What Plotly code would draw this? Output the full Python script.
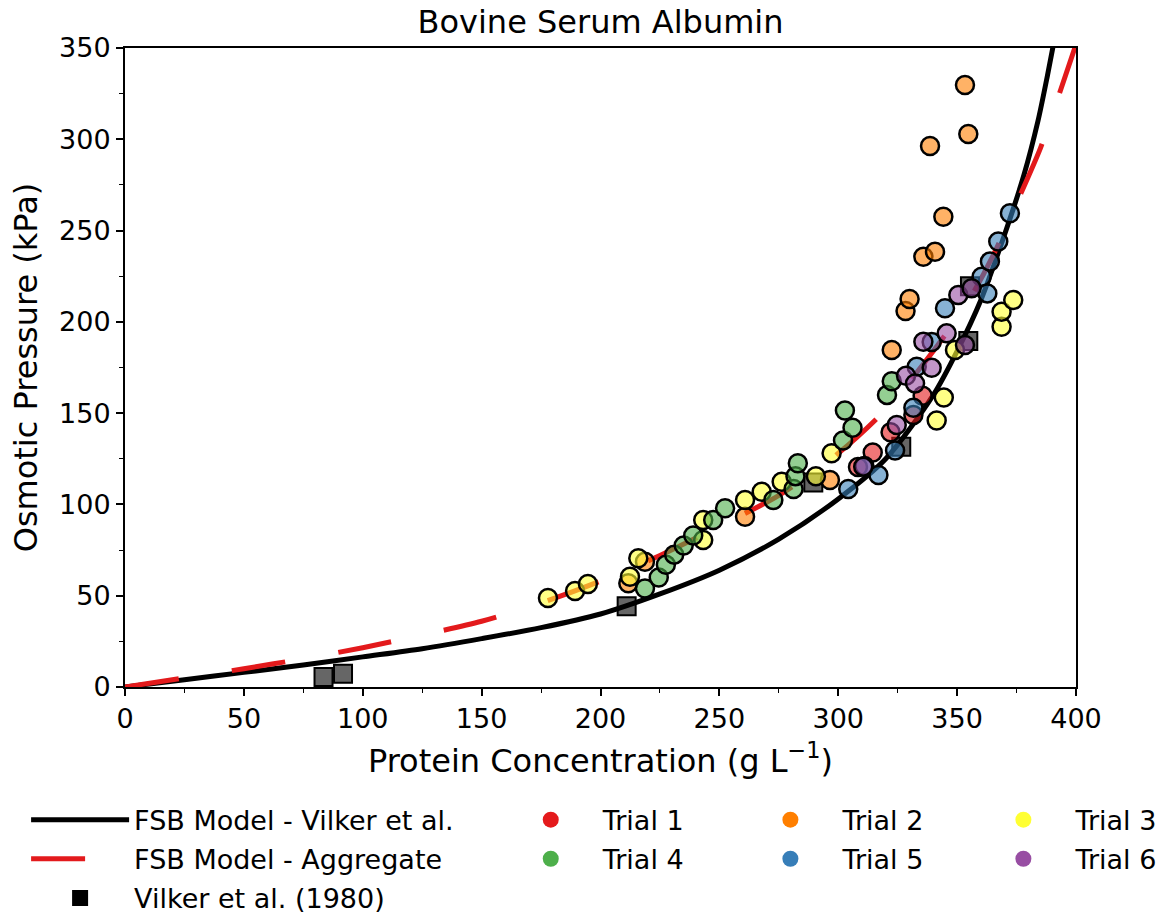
import plotly.graph_objects as go

# ---------------- data ----------------
# FSB model curves
vilker_model_x = [0, 25, 50, 75, 100, 125, 150, 175, 200, 225, 250, 275, 300, 320, 340, 350, 360, 370, 378, 384, 388, 392]
vilker_model_y = [0, 4, 8, 12, 16.5, 21, 26.5, 32.5, 40, 51, 64, 81, 103, 125, 160, 184, 212, 248, 280, 310, 335, 362]

aggregate_model_x = [0, 25, 50, 75, 100, 125, 150, 175, 200, 225, 250, 275, 300, 320, 340, 355, 365, 375, 385, 393, 400]
aggregate_model_y = [0, 5, 10, 15.5, 21.5, 28.5, 36, 46, 58, 72, 88, 105, 128, 152, 184, 212, 236, 265, 295, 325, 352]

# Vilker et al. (1980) data
vilker_x = [83.5, 91.7, 211.0, 289.5, 326.5, 354.7, 355.4]
vilker_y = [5.5, 7.3, 44.2, 112.0, 131.6, 189.5, 219.5]

# Trials
trial1_x = [308.3, 314.5, 322.0, 331.6, 335.5]
trial1_y = [120.5, 128.5, 139.5, 149.0, 159.5]

trial2_x = [211.7, 218.7, 260.8, 296.5, 322.5, 328.3, 330.0, 335.8, 340.7, 344.2, 338.6, 354.7, 353.3]
trial2_y = [56.8, 68.6, 93.3, 113.4, 184.6, 206.0, 212.5, 235.7, 238.4, 257.6, 296.3, 302.9, 329.7]

trial3_x = [177.9, 189.3, 194.7, 212.4, 215.9, 243.2, 243.2, 260.8, 267.8, 276.2, 290.6, 297.2, 341.4, 344.4, 349.1, 368.7, 368.7, 373.6]
trial3_y = [48.7, 52.6, 56.4, 60.4, 70.5, 80.5, 91.5, 102.4, 107.0, 112.4, 115.4, 128.0, 146.0, 158.5, 184.6, 197.3, 205.6, 212.0]

trial4_x = [218.7, 224.5, 227.5, 231.0, 235.0, 239.0, 247.4, 252.4, 272.7, 281.2, 282.0, 283.0, 302.0, 306.0, 302.8, 320.5, 322.5]
trial4_y = [54.0, 60.0, 67.0, 72.5, 77.5, 83.0, 91.5, 97.9, 102.4, 108.5, 115.5, 122.5, 135.0, 142.0, 151.5, 160.0, 167.5]

trial5_x = [304.2, 311.0, 316.9, 323.9, 331.6, 333.0, 339.3, 344.9, 360.3, 362.7, 363.8, 367.3, 372.2]
trial5_y = [108.5, 121.0, 116.1, 129.5, 153.0, 175.4, 189.0, 207.5, 224.7, 215.6, 233.0, 244.0, 259.5]

trial6_x = [310.5, 324.6, 328.5, 332.3, 335.8, 339.3, 345.6, 350.5, 353.3, 356.1]
trial6_y = [120.7, 143.5, 170.5, 166.3, 189.1, 174.8, 193.7, 214.7, 187.3, 218.4]

trial_names = ["Trial 1", "Trial 2", "Trial 3", "Trial 4", "Trial 5", "Trial 6"]
trial_colors = ["#e41a1c", "#ff7f00", "#ffff33", "#4daf4a", "#377eb8", "#984ea3"]
trial_xs = [trial1_x, trial2_x, trial3_x, trial4_x, trial5_x, trial6_x]
trial_ys = [trial1_y, trial2_y, trial3_y, trial4_y, trial5_y, trial6_y]

x_ticks = [0, 50, 100, 150, 200, 250, 300, 350, 400]
y_ticks = [0, 50, 100, 150, 200, 250, 300, 350]

FONT = "DejaVu Sans"


def rgba(hex_color, a):
    h = hex_color.lstrip("#")
    r, g, b = int(h[0:2], 16), int(h[2:4], 16), int(h[4:6], 16)
    return f"rgba({r},{g},{b},{a})"


fig = go.Figure()

# model curves
fig.add_trace(go.Scatter(
    x=vilker_model_x, y=vilker_model_y, mode="lines",
    line=dict(color="black", width=5, shape="spline", smoothing=0.8),
    name="FSB Model - Vilker et al.", legend="legend", legendgroup="a",
))
fig.add_trace(go.Scatter(
    x=aggregate_model_x, y=aggregate_model_y, mode="lines",
    line=dict(color="#e31a1c", width=5, shape="spline", smoothing=0.8, dash="54px,54px"),
    name="FSB Model - Aggregate", legend="legend", legendgroup="b",
))

# Vilker data
fig.add_trace(go.Scatter(
    x=vilker_x, y=vilker_y, mode="markers",
    marker=dict(symbol="square", size=18, color="rgba(0,0,0,0.6)", line=dict(color="black", width=2)),
    showlegend=False, name="Vilker et al. (1980)",
))
fig.add_trace(go.Scatter(
    x=[None], y=[None], mode="markers",
    marker=dict(symbol="square", size=18, color="black"),
    name="Vilker et al. (1980)", legend="legend", legendgroup="c",
))

# trials
for name, col, xs, ys in zip(trial_names, trial_colors, trial_xs, trial_ys):
    fig.add_trace(go.Scatter(
        x=xs, y=ys, mode="markers",
        marker=dict(symbol="circle", size=18, color=rgba(col, 0.6), line=dict(color="black", width=2.5)),
        showlegend=False, name=name,
    ))

legend_for = {"Trial 1": "legend2", "Trial 4": "legend2",
              "Trial 2": "legend3", "Trial 5": "legend3",
              "Trial 3": "legend4", "Trial 6": "legend4"}
for name, col in zip(trial_names, trial_colors):
    fig.add_trace(go.Scatter(
        x=[None], y=[None], mode="markers",
        marker=dict(symbol="circle", size=20, color=col),
        name=name, legend=legend_for[name], legendgroup=name,
    ))

legend_common = dict(
    font=dict(family=FONT, size=27, color="black"),
    bgcolor="rgba(0,0,0,0)", borderwidth=0,
    orientation="v", yanchor="top", xanchor="left",
    tracegroupgap=1,
)
LEG_Y = -0.170
fig.update_layout(
    legend=dict(x=-0.104, y=LEG_Y, itemwidth=98, **legend_common),
    legend2=dict(x=0.393, y=LEG_Y, itemwidth=94, **legend_common),
    legend3=dict(x=0.645, y=LEG_Y, itemwidth=94, **legend_common),
    legend4=dict(x=0.89, y=LEG_Y, itemwidth=94, **legend_common),
)

axis_common = dict(
    showline=True, linecolor="black", linewidth=2, mirror=True,
    ticks="outside", ticklen=7, tickwidth=1.5, tickcolor="black",
    showgrid=False, zeroline=False,
    tickfont=dict(family=FONT, size=27, color="black"),
    minor=dict(ticks="outside", ticklen=4, tickwidth=1.2, tickcolor="black", dtick=25, showgrid=False),
)

fig.update_xaxes(
    range=[0, 400], tickvals=x_ticks, ticktext=[str(v) for v in x_ticks],
    title=dict(text="Protein Concentration (g L<sup>\u22121</sup>)",
               font=dict(family=FONT, size=32, color="black"), standoff=16),
    **axis_common,
)
fig.update_yaxes(
    range=[0, 350], tickvals=y_ticks, ticktext=[str(v) for v in y_ticks],
    title=dict(text="Osmotic Pressure (kPa)",
               font=dict(family=FONT, size=32, color="black"), standoff=12),
    **axis_common,
)

fig.update_layout(
    width=1172, height=913,
    margin=dict(l=125, r=96, t=48, b=226, autoexpand=False),
    paper_bgcolor="white", plot_bgcolor="white",
    title=dict(text="Bovine Serum Albumin", x=0.5, xref="paper", y=0.976, yref="container",
               yanchor="middle", xanchor="center",
               font=dict(family=FONT, size=32, color="black")),
    font=dict(family=FONT, color="black"),
)

fig.write_html("out.html")
